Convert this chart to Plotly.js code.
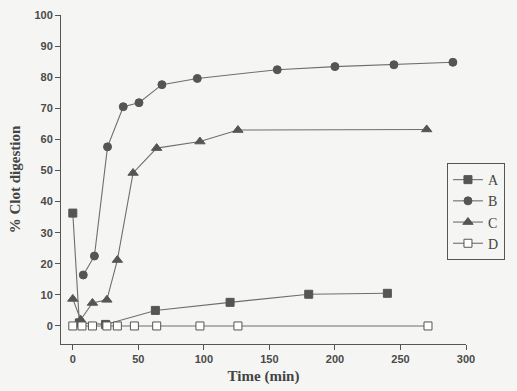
<!DOCTYPE html>
<html>
<head>
<meta charset="utf-8">
<script src="https://cdn.plot.ly/plotly-3.0.1.min.js"></script>
<style>html,body{margin:0;padding:0;background:#f5f5f3;}#chart{width:517px;height:391px;}</style>
</head>
<body>
<div id="chart"></div>
<script>
var timeA = [0, 5, 25, 63, 120, 180, 240];
var valA  = [36.3, 1, 0.5, 5, 7.6, 10.2, 10.5];
var timeB = [8, 16.5, 26.5, 38.5, 50.5, 68, 95, 156, 200, 245, 290];
var valB  = [16.4, 22.5, 57.6, 70.5, 71.8, 77.6, 79.6, 82.4, 83.4, 84.0, 84.8];
var timeC = [0, 6, 15, 26, 34, 46, 64, 97, 126, 270];
var valC  = [8.7, 2, 7.4, 8.4, 21.2, 49.2, 57.2, 59.3, 63, 63.2];
var timeD = [0, 7, 15, 26, 34, 47, 64, 97, 126, 271];
var valD  = [0, 0, 0, 0, 0, 0, 0, 0, 0, 0];
var names = ['A', 'B', 'C', 'D'];

var lineCol = '#6e6e6e', mk = '#555555';
function tr(x, y, name, sym, fill) {
  return {x: x, y: y, name: name, type: 'scatter', mode: 'lines+markers',
    line: {color: lineCol, width: 1.1},
    marker: {symbol: sym, size: sym === 'triangle-up' ? 9 : 8, color: fill ? mk : '#ffffff',
      line: {color: mk, width: 1}}};
}
var data = [
  tr(timeA, valA, names[0], 'square', true),
  tr(timeB, valB, names[1], 'circle', true),
  tr(timeC, valC, names[2], 'triangle-up', true),
  tr(timeD, valD, names[3], 'square', false)
];
var tickFont = {family: 'Liberation Sans, Arial, sans-serif', size: 11, color: '#4a4a4a', weight: 'bold'};
var titleFont = {family: 'Liberation Serif, Times New Roman, serif', size: 15, color: '#444', weight: 'bold'};
var layout = {
  width: 517, height: 391,
  margin: {l: 61, r: 47, t: 15, b: 47},
  paper_bgcolor: '#f5f5f3', plot_bgcolor: '#f5f5f3',
  showlegend: true,
  legend: {x: 0.953, y: 0.55, xanchor: 'left', yanchor: 'top', bgcolor: 'rgba(0,0,0,0)',
    bordercolor: '#555', borderwidth: 1,
    font: {family: 'Liberation Serif, Times New Roman, serif', size: 14, color: '#444'},
    tracegroupgap: 0, itemwidth: 30},
  xaxis: {range: [-9, 300], tickvals: [0, 50, 100, 150, 200, 250, 300],
    showgrid: false, zeroline: false, showline: true, linecolor: '#555', linewidth: 1,
    ticks: 'outside', ticklen: 5, tickcolor: '#555', tickfont: tickFont,
    title: {text: 'Time (min)', standoff: 6, font: titleFont}},
  yaxis: {range: [-5.8, 100], tickvals: [0,10,20,30,40,50,60,70,80,90,100],
    showgrid: false, zeroline: false, showline: true, linecolor: '#555', linewidth: 1,
    ticks: 'outside', ticklen: 5, tickcolor: '#555', tickfont: tickFont,
    title: {text: '% Clot digestion', standoff: 10, font: titleFont}}
};
Plotly.newPlot('chart', data, layout, {displayModeBar: false, staticPlot: true});
</script>
</body>
</html>
